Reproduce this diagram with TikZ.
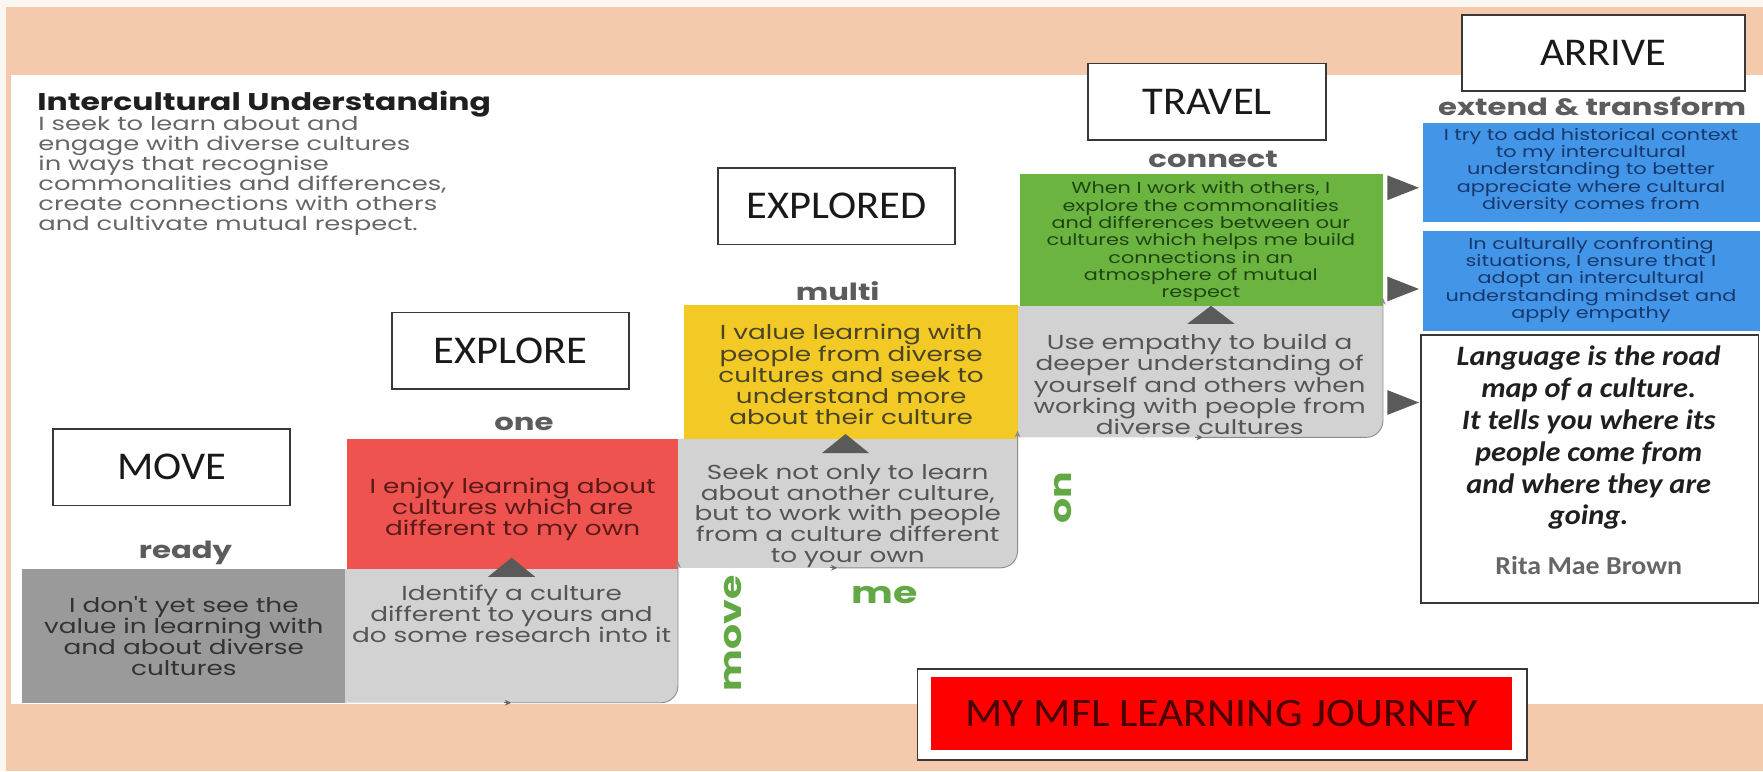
\documentclass[tikz,border=0pt]{standalone}
\usepackage{fontspec}
\setmainfont{Poppins}
\newfontfamily\cgfont[FakeStretch=1.3]{Poppins}
\newfontfamily\cgwfont[FakeStretch=1.35]{Poppins}
\newfontfamily\calfont[FakeStretch=1.08]{Carlito}
\usetikzlibrary{arrows.meta}
\definecolor{offw}{HTML}{FCF6F0}
\definecolor{peach}{HTML}{F5C9AB}
\definecolor{lblline}{HTML}{383838}
\definecolor{dgrey}{HTML}{9A9A9A}
\definecolor{lgrey}{HTML}{D2D2D2}
\definecolor{redbox}{HTML}{EF5350}
\definecolor{yellowbox}{HTML}{F2C925}
\definecolor{greenbox}{HTML}{6CB440}
\definecolor{bluebox}{HTML}{4395E8}
\definecolor{trigrey}{HTML}{5A5A5A}
\definecolor{stagegrey}{HTML}{5C5C5C}
\definecolor{wordgreen}{HTML}{62A845}
\definecolor{mflred}{HTML}{FF0000}
\definecolor{mfltext}{HTML}{4A0000}
\definecolor{bodygrey}{HTML}{666666}
\definecolor{dgtext}{HTML}{333333}
\definecolor{lgtext}{HTML}{555555}
\definecolor{redtext}{HTML}{5A1A18}
\definecolor{yeltext}{HTML}{4A4426}
\definecolor{grntext}{HTML}{1F4514}
\definecolor{blutext}{HTML}{17386B}
\begin{document}
\begin{tikzpicture}[x=1pt,y=-1pt,
  lbl/.style={draw=lblline, line width=1.6pt, fill=white, minimum width=211pt, minimum height=68pt, inner sep=0pt, font=\calfont\fontsize{35}{38}\selectfont, text=black!90},
  boxtxt/.style={align=center, inner sep=0pt, font=\cgfont\fontsize{18}{18.6}\selectfont},
  smalltxt/.style={align=center, inner sep=0pt, font=\cgfont\fontsize{14.2}{15.4}\selectfont},
  stage/.style={font=\cgfont\bfseries\fontsize{21}{24}\selectfont, text=stagegrey, inner sep=0pt},
  gword/.style={font=\cgfont\bfseries\fontsize{27}{30}\selectfont, text=wordgreen, inner sep=0pt},
  tri/.style={fill=trigrey},
  edgeln/.style={draw=black!45, line width=0.8pt, -{Stealth[length=6pt,width=5pt]}},
  tick/.style={draw=black!60, line width=0.8pt, -{Stealth[length=6pt,width=5pt]}}
]
\useasboundingbox (0,0) rectangle (1568,686);
% background
\fill[offw] (0,0) rectangle (1568,686);
\fill[peach] (5,6) rectangle (1568,686);
\fill[white] (10,67) rectangle (1568,626);

% left intro text
\node[anchor=west, inner sep=0pt, font=\cgfont\bfseries\fontsize{21.5}{24}\selectfont, text=black!88] (title) at (33,93) {Intercultural Understanding};
\node[anchor=north west, align=left, inner sep=0pt, font=\cgwfont\fontsize{17}{17.8}\selectfont, text=bodygrey] (intro) at (34,103)
 {I seek to learn about and\\engage with diverse cultures\\in ways that recognise\\commonalities and differences,\\create connections with others\\and cultivate mutual respect.};

% grey step boxes (rounded bottom-right corner)
\fill[dgrey] (20,506) rectangle (307,625);
\coordinate (dg) at (163.5,565.5);
\fill[lgrey] (307,506) -- (603,506) -- (603,610) arc[start angle=0,end angle=-90,radius=15pt] -- (307,625) -- cycle;
\coordinate (g1) at (455,565.5);
\fill[lgrey] (603,390) -- (905,390) -- (905,490) arc[start angle=0,end angle=-90,radius=15pt] -- (603,505) -- cycle;
\coordinate (g2) at (754,447.5);
\fill[lgrey] (905,272) -- (1230,272) -- (1230,374) arc[start angle=0,end angle=-90,radius=15pt] -- (905,389) -- cycle;
\coordinate (g3) at (1067,330.5);

% coloured boxes
\node[fill=redbox, minimum width=294pt, minimum height=116pt, inner sep=0pt] (red) at (456,448) {};
\node[fill=yellowbox, minimum width=297pt, minimum height=119pt, inner sep=0pt] (yellow) at (756.5,330.5) {};
\node[fill=greenbox, minimum width=323pt, minimum height=117pt, inner sep=0pt] (green) at (1068.5,213.5) {};
\node[fill=bluebox, minimum width=299pt, minimum height=88pt, inner sep=0pt] (blue1) at (1415.5,153) {};
\node[fill=bluebox, minimum width=299pt, minimum height=89pt, inner sep=0pt] (blue2) at (1415.5,249.5) {};

% edge arrows along grey boxes
\coordinate (e1s) at (455,625); \coordinate (e1t) at (603,499);
\draw[edgeln] (e1s) -- (588,625) arc[start angle=-90,end angle=0,radius=15pt] -- (e1t);
\draw[tick] (448,625) -- (e1s);
\coordinate (e2s) at (745,505); \coordinate (e2t) at (905,383);
\draw[edgeln] (e2s) -- (890,505) arc[start angle=-90,end angle=0,radius=15pt] -- (e2t);
\draw[tick] (738,505) -- (e2s);
\coordinate (e3s) at (1070,389); \coordinate (e3t) at (1230,265);
\draw[edgeln] (e3s) -- (1215,389) arc[start angle=-90,end angle=0,radius=15pt] -- (e3t);
\draw[tick] (1063,389) -- (e3s);

% box texts
\node[boxtxt, text=dgtext] (tdg) at (163.5,566) {I don't yet see the\\value in learning with\\and about diverse\\cultures};
\node[boxtxt, text=lgtext] (tg1) at (455,546) {Identify a culture\\different to yours and\\do some research into it};
\node[boxtxt, text=redtext] (tred) at (456,453) {I enjoy learning about\\cultures which are\\different to my own};
\node[boxtxt, text=lgtext] (tg2) at (754,459) {Seek not only to learn\\about another culture,\\but to work with people\\from a culture different\\to your own};
\node[boxtxt, text=yeltext] (tyel) at (757,333) {I value learning with\\people from diverse\\cultures and seek to\\understand more\\about their culture};
\node[boxtxt, text=lgtext] (tg3) at (1067,342) {Use empathy to build a\\deeper understanding of\\yourself and others when\\working with people from\\diverse cultures};
\node[smalltxt, text=grntext] (tgrn) at (1068,215) {When I work with others, I\\explore the commonalities\\and differences between our\\cultures which helps me build\\connections in an\\atmosphere of mutual\\respect};
\node[smalltxt, text=blutext] (tb1) at (1415,152) {I try to add historical context\\to my intercultural\\understanding to better\\appreciate where cultural\\diversity comes from};
\node[smalltxt, text=blutext] (tb2) at (1415,249) {In culturally confronting\\situations, I ensure that I\\adopt an intercultural\\understanding mindset and\\apply empathy};

% up triangles between steps
\fill[tri] (434,513) -- (455,496) -- (476,513) -- cycle;
\fill[tri] (731,403) -- (752,386) -- (773,403) -- cycle;
\fill[tri] (1056,288) -- (1077,272) -- (1098,288) -- cycle;
% right triangles
\fill[tri] (1234,156) -- (1262,167) -- (1234,178) -- cycle;
\fill[tri] (1234,246) -- (1262,257) -- (1234,268) -- cycle;
\fill[tri] (1234,347) -- (1262,358) -- (1234,369) -- cycle;

% stage words
\node[stage] (ready) at (165,492) {ready};
\node[stage] (one) at (466,377) {one};
\node[stage] (multi) at (745,259) {multi};
\node[stage] (connect) at (1079,142) {connect};
\node[stage] (extend) at (1416,95) {extend \& transform};

% green words
\node[gword, rotate=90] (move) at (652,563) {move};
\node[gword] (me) at (787,529) {me};
\node[gword, rotate=90] (on) at (945,443) {on};

% stage labels
\node[lbl] (MOVE) at (152.5,415.5) {MOVE};
\node[lbl] (EXPLORE) at (454,312) {EXPLORE};
\node[lbl] (EXPLORED) at (744,183.5) {EXPLORED};
\node[lbl] (TRAVEL) at (1073.5,90.5) {TRAVEL};
\node[lbl, minimum width=252pt] (ARRIVE) at (1426,47) {ARRIVE};

% quote
\node[draw=lblline, line width=1.6pt, fill=white, minimum width=300pt, minimum height=238pt, inner sep=0pt] (quote) at (1414,417) {};
\node[align=center, inner sep=0pt, font=\calfont\bfseries\itshape\fontsize{25}{28.3}\selectfont, text=black!88] (qtext) at (1413,389.5)
 {Language is the road\\map of a culture.\\It tells you where its\\people come from\\and where they are\\going.};
\node[inner sep=0pt, font=\calfont\bfseries\fontsize{23}{25}\selectfont, text=black!60] (author) at (1413,503) {Rita Mae Brown};

% title banner
\node[draw=lblline, line width=1.6pt, fill=white, minimum width=542pt, minimum height=81pt, inner sep=0pt] (mflout) at (1087,635.5) {};
\node[fill=mflred, minimum width=517pt, minimum height=65pt, inner sep=0pt, font=\calfont\fontsize{36}{38}\selectfont, text=mfltext] (mfl) at (1086.5,634.5) {MY MFL LEARNING JOURNEY};
\end{tikzpicture}
\end{document}
